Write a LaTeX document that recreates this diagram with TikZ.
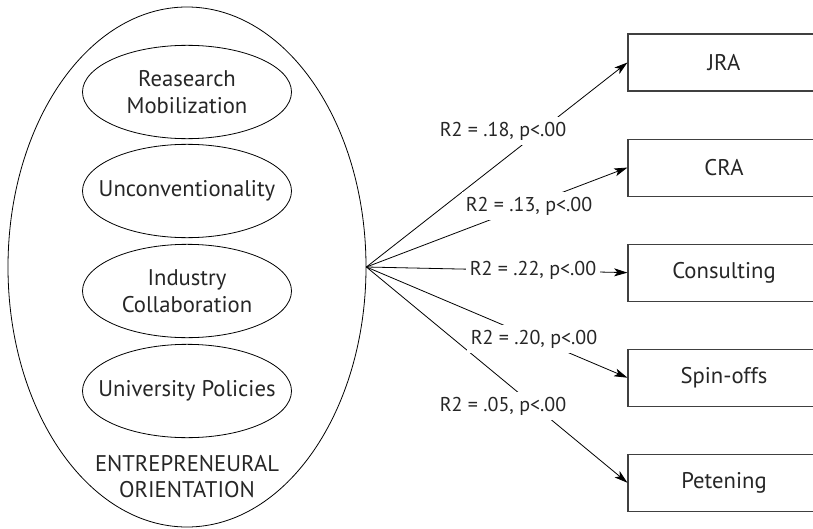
\documentclass[tikz,border=0pt]{standalone}
\usepackage{fontspec}
\setmainfont{PT Sans}
\usetikzlibrary{shapes.geometric,positioning,arrows.meta}

\begin{document}
\begin{tikzpicture}[
    x=0.75pt, y=-0.75pt,
    font=\fontsize{17}{20}\selectfont,
    every node/.style={text=black!85},
    factor/.style={ellipse, draw, line width=0.6pt, align=center,
        inner xsep=-25pt, inner ysep=0pt,
        minimum width=156.75pt, minimum height=70pt},
    outcome/.style={rectangle, draw=black!75, line width=0.8pt,
        minimum width=144pt, minimum height=42.75pt},
    effect/.style={fill=white, inner xsep=3pt, inner ysep=4pt,
        font=\fontsize{15}{17}\selectfont},
    link/.style={-{Stealth[length=10pt,width=6pt,inset=2.5pt]}, line width=0.6pt}
]
    \useasboundingbox (0,0) rectangle (813,528);
    \clip (0,0) rectangle (813,528);

    % entrepreneurial orientation and its four factors
    \node[ellipse, draw, line width=0.6pt, minimum width=268.5pt,
        minimum height=390pt] (eo) at (187,267) {};
    \node[factor] (rm) at (187,92) {Reasearch\\Mobilization};
    \node[factor] (uc) at (187,191) {Unconventionality};
    \node[factor] (ic) at (187,291) {Industry\\Collaboration};
    \node[factor] (up) at (187,391) {University Policies};
    \node[align=center, font=\fontsize{17}{19.5}\selectfont] (eolabel) at (187,477)
        {ENTREPRENEURAL\\ORIENTATION};

    % outcomes
    \node[outcome] (jra) at (724,62.5) {JRA};
    \node[outcome, below=35.25pt of jra] (cra) {CRA};
    \node[outcome, below=35.25pt of cra] (cons) {Consulting};
    \node[outcome, below=35.25pt of cons] (spin) {Spin-offs};
    \node[outcome, below=35.25pt of spin] (pet) {Petening};

    % effects
    \draw[link] (eo.east) -- (jra.west);
    \draw[link] (eo.east) -- (cra.west);
    \draw[link] (eo.east) -- (cons.west);
    \draw[link] (eo.east) -- (spin.west);
    \draw[link] (eo.east) -- (pet.west);

    \node[effect] (rjra) at (503,131) {R2 = .18, p<.00};
    \node[effect] (rcra) at (529,206) {R2 = .13, p<.00};
    \node[effect] (rcons) at (533,270) {R2 = .22, p<.00};
    \node[effect] (rspin) at (534,339) {R2 = .20, p<.00};
    \node[effect] (rpet) at (503,406) {R2 = .05, p<.00};
\end{tikzpicture}
\end{document}
